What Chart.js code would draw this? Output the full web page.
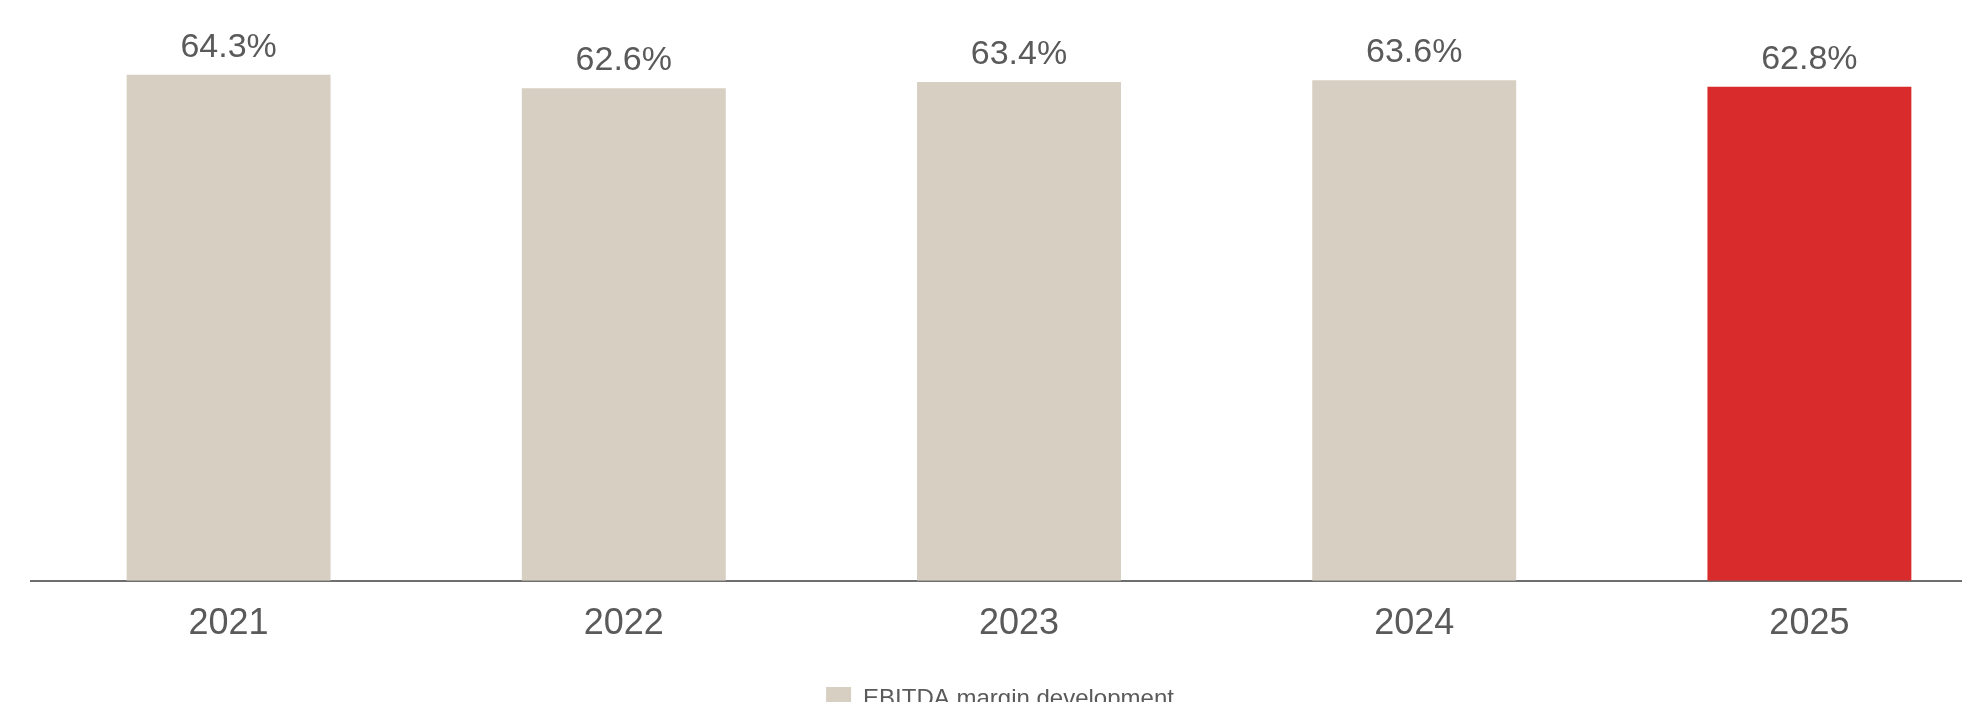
<!DOCTYPE html>
<html>
<head>
<meta charset="utf-8">
<script src="https://cdn.jsdelivr.net/npm/chart.js@4/dist/chart.umd.min.js"></script>
<style>
  html, body { margin: 0; padding: 0; background: #fff; overflow: hidden; }
  #wrap { width: 2010px; height: 722px; position: relative; }
</style>
</head>
<body>
<div id="wrap"><canvas id="margin-chart"></canvas></div>
<script>
// data
const years = ["2021", "2022", "2023", "2024", "2025"];
const marginValues = [64.3, 62.6, 63.4, 63.6, 62.8];
const seriesName = "EBITDA margin development";

const beige = "#d6cfc2";
const red = "#d92b2b";
const textGrey = "#5a5a5a";

function getColor(year) {
  // last year is highlighted in red
  if (year === "2025") {
    return red;
  }
  return beige;
}

// writes the % value above each bar
const valueLabels = {
  id: "valueLabels",
  afterDatasetsDraw(chart) {
    const ctx = chart.ctx;
    const meta = chart.getDatasetMeta(0);
    ctx.save();
    ctx.font = "34px 'Liberation Sans', Arial, sans-serif";
    ctx.fillStyle = textGrey;
    ctx.textAlign = "center";
    ctx.textBaseline = "alphabetic";
    meta.data.forEach((bar, i) => {
      ctx.fillText(marginValues[i].toFixed(1) + "%", bar.x, bar.y - 18);
    });
    ctx.restore();
  },
};

// the legend sits a little left of the canvas centre in the original
const legendNudge = {
  id: "legendNudge",
  afterLayout(chart) {
    if (chart.legend) {
      chart.legend.right -= 38;
    }
  },
};

const canvas = document.querySelector("#margin-chart");

new Chart(canvas.getContext("2d"), {
  type: "bar",
  data: {
    labels: years,
    datasets: [
      {
        label: seriesName,
        data: marginValues,
        backgroundColor: years.map((y) => getColor(y)),
        borderWidth: 0,
        categoryPercentage: 1,
        barPercentage: 0.516,
      },
    ],
  },
  options: {
    responsive: true,
    maintainAspectRatio: false,
    animation: false,
    layout: {
      padding: { left: 31, right: 3, top: 30, bottom: 0 },
    },
    scales: {
      x: {
        grid: { display: false },
        border: { display: true, color: "#6e6e6e", width: 2 },
        ticks: {
          color: textGrey,
          padding: 14,
          font: { family: "'Liberation Sans', Arial, sans-serif", size: 36 },
        },
      },
      y: {
        display: false,
        min: 0,
        max: 70,
      },
    },
    plugins: {
      tooltip: { enabled: false },
      legend: {
        position: "bottom",
        labels: {
          color: textGrey,
          boxWidth: 25,
          boxHeight: 25,
          padding: 27,
          font: { family: "'Liberation Sans', Arial, sans-serif", size: 24 },
          generateLabels: () => [
            {
              text: seriesName,
              fillStyle: beige,
              strokeStyle: beige,
              lineWidth: 0,
              fontColor: textGrey,
              datasetIndex: 0,
            },
          ],
        },
      },
    },
  },
  plugins: [valueLabels, legendNudge],
});
</script>
</body>
</html>
